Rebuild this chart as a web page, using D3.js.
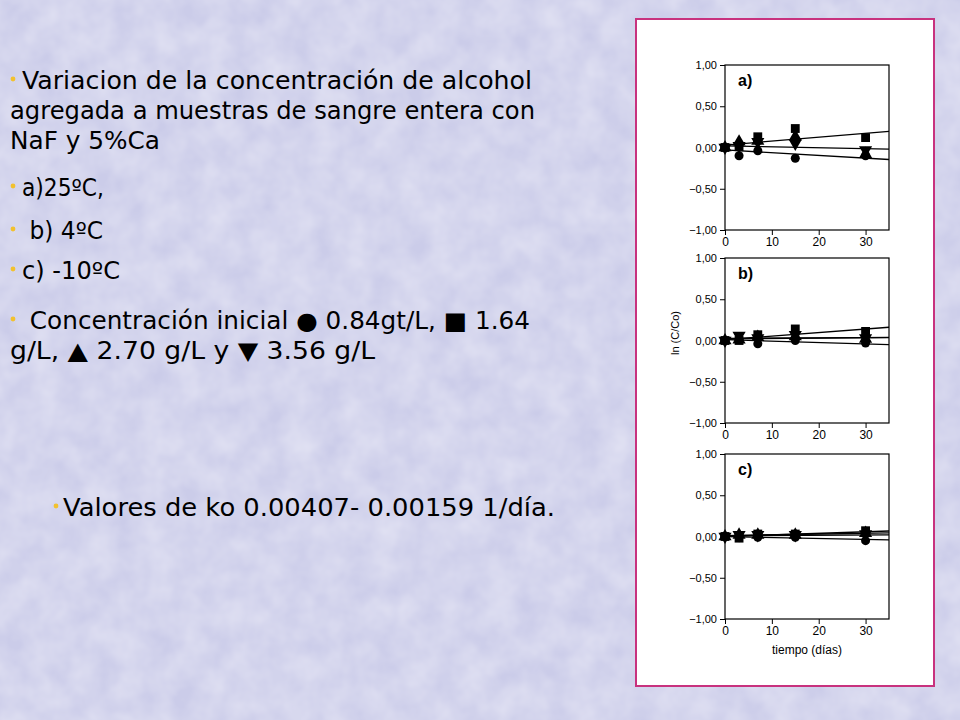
<!DOCTYPE html>
<html><head><meta charset="utf-8">
<script src="https://cdn.jsdelivr.net/npm/d3@7"></script>
<style>body{margin:0;background:#cfd0ec;} svg{display:block;}</style>
</head><body><svg id="c" width="960" height="720"></svg>
<script>
// ---------------- DATA ----------------
const days = [0, 3, 7, 15, 30];
const seriesNames = ["0.84 g/L", "1.64 g/L", "2.70 g/L", "3.56 g/L"];
const seriesShapes = ["circle", "square", "up", "down"];
const panelLabels = ["a)", "b)", "c)"];

// panel a) 25 ºC
const a_circle = [0, -0.10, -0.04, -0.13, -0.10];
const a_square = [0, 0.01, 0.13, 0.23, 0.12];
const a_up     = [0, 0.07, 0.08, 0.13, -0.08];
const a_down   = [0, 0.02, 0.07, 0.05, -0.03];
const a_fitIntercept = [0.03, 0.02, -0.03];
const a_fitSlope     = [0.0047, -0.0011, -0.0033];

// panel b) 4 ºC
const b_circle = [0, 0.01, -0.04, 0.00, -0.03];
const b_square = [0, 0.00, 0.07, 0.14, 0.11];
const b_up     = [0, 0.01, 0.04, 0.05, 0.02];
const b_down   = [0, 0.06, 0.03, 0.07, 0.03];
const b_fitIntercept = [0.01, 0.02, 0.025, 0.01];
const b_fitSlope     = [0.0043, 0.0005, 0.0003, -0.0017];

// panel c) -10 ºC
const c_circle = [0, 0.01, -0.01, -0.01, -0.05];
const c_square = [0, -0.02, 0.03, 0.03, 0.07];
const c_up     = [0, 0.02, 0.02, 0.02, 0.04];
const c_down   = [0, 0.02, 0.02, 0.02, 0.03];
const c_fitIntercept = [0.0, 0.01, 0.01, 0.0];
const c_fitSlope     = [0.0019, 0.001, 0.0003, -0.0012];

const yTicks = [-1, -0.5, 0, 0.5, 1];
const xTicks = [0, 10, 20, 30];
const xDomain = [0, 35];
const yDomain = [-1, 1];

const textLines = [
  {t: "Variacion de la concentración de alcohol", x: 22, y: 89, w: 510, bullet: true},
  {t: "agregada a muestras de sangre entera con", x: 10, y: 119, w: 525},
  {t: "NaF y 5%Ca", x: 10, y: 149, w: 150},
  {t: "a)25ºC,", x: 22, y: 196, w: 82, bullet: true},
  {t: " b) 4ºC", x: 22, y: 239, w: 81, bullet: true},
  {t: "c) -10ºC", x: 22, y: 279, w: 98, bullet: true},
  {t: " Concentración inicial ● 0.84gt/L, ■ 1.64", x: 22, y: 329, w: 508, bullet: true},
  {t: "g/L, ▲ 2.70 g/L y ▼ 3.56 g/L", x: 10, y: 359, w: 365},
  {t: "Valores de ko 0.00407- 0.00159 1/día.", x: 63, y: 516, w: 492, bullet: true, bx: 56}
];

const panelData = [
  {label: panelLabels[0], series: [a_circle, a_square, a_up, a_down], fi: a_fitIntercept, fs: a_fitSlope},
  {label: panelLabels[1], series: [b_circle, b_square, b_up, b_down], fi: b_fitIntercept, fs: b_fitSlope},
  {label: panelLabels[2], series: [c_circle, c_square, c_up, c_down], fi: c_fitIntercept, fs: c_fitSlope}
];

// ---------------- DRAWING ----------------
const svg = d3.select("#c");
const defs = svg.append("defs");
const f = defs.append("filter").attr("id", "tex").attr("x", 0).attr("y", 0).attr("width", "100%").attr("height", "100%");
f.append("feTurbulence").attr("type", "fractalNoise").attr("baseFrequency", 0.035).attr("numOctaves", 3).attr("seed", 4).attr("result", "n");
f.append("feColorMatrix").attr("in", "n").attr("type", "matrix")
  .attr("values", "0 0 0 0 0.94  0 0 0 0 0.94  0 0 0 0 0.98  0 0 0 0.6 -0.1");

svg.append("rect").attr("width", 960).attr("height", 720).attr("fill", "#cbcce9");
svg.append("rect").attr("width", 960).attr("height", 720).attr("filter", "url(#tex)");

// left text
const txt = svg.append("g").attr("font-family", "'DejaVu Sans', sans-serif").attr("font-size", 24).attr("fill", "#000");
textLines.forEach(l => {
  if (l.bullet) {
    svg.append("circle").attr("cx", l.bx || 13).attr("cy", l.y - 10).attr("r", 2.4).attr("fill", "#f2c12e");
  }
  txt.append("text").attr("x", l.x).attr("y", l.y).attr("textLength", l.w)
    .attr("lengthAdjust", "spacingAndGlyphs").style("white-space", "pre").text(l.t);
});

// white frame
svg.append("rect").attr("x", 636).attr("y", 19).attr("width", 298).attr("height", 667)
  .attr("fill", "#fff").attr("stroke", "#c8327e").attr("stroke-width", 2);

const panelTops = [65, 258, 454];
const pH = 165, pL = 725, pR = 889;
const x = d3.scaleLinear().domain(xDomain).range([pL, pR]);
const fmt = v => d3.format(".2f")(v).replace(".", ",");

const sym = {
  circle: d3.symbol().type(d3.symbolCircle).size(64)(),
  square: d3.symbol().type(d3.symbolSquare).size(78)(),
  up: d3.symbol().type(d3.symbolTriangle).size(75)(),
  down: d3.symbol().type(d3.symbolTriangle).size(75)()
};

panelData.forEach((p, i) => {
  const top = panelTops[i];
  const y = d3.scaleLinear().domain(yDomain).range([top + pH, top]);
  const g = svg.append("g").attr("font-family", "'Liberation Sans', Arial, sans-serif");

  // frame
  g.append("rect").attr("x", pL).attr("y", top).attr("width", pR - pL).attr("height", pH)
    .attr("fill", "none").attr("stroke", "#000").attr("stroke-width", 1.2);

  const ya = g.append("g").attr("transform", `translate(${pL},0)`)
    .call(d3.axisLeft(y).tickValues(yTicks).tickFormat(fmt).tickSize(5).tickPadding(3));
  ya.selectAll("text").attr("font-size", 11).attr("fill", "#000").attr("font-family", "'Liberation Sans', Arial, sans-serif");
  ya.select(".domain").remove();

  const xa = g.append("g").attr("transform", `translate(0,${top + pH})`)
    .call(d3.axisBottom(x).tickValues(xTicks).tickFormat(d3.format("d")).tickSize(5).tickPadding(2));
  xa.selectAll("text").attr("font-size", 12).attr("fill", "#000").attr("font-family", "'Liberation Sans', Arial, sans-serif");
  xa.select(".domain").remove();

  // markers
  p.series.forEach((vals, si) => {
    const shape = seriesShapes[si];
    g.append("g").selectAll("path").data(vals).join("path")
      .attr("d", sym[shape])
      .attr("transform", (v, k) => `translate(${x(days[k])},${y(v)})` + (shape === "down" ? " rotate(180)" : ""))
      .attr("fill", "#000");
  });

  // fitted lines
  p.fi.forEach((b0, li) => {
    const b1 = p.fs[li];
    g.append("line")
      .attr("x1", x(xDomain[0])).attr("y1", y(b0))
      .attr("x2", x(xDomain[1])).attr("y2", y(b0 + b1 * xDomain[1]))
      .attr("stroke", "#000").attr("stroke-width", 1.3);
  });

  g.append("text").attr("x", 738).attr("y", top + 21).attr("font-size", 16).attr("font-weight", "bold")
    .text(p.label);
});

svg.append("text").attr("transform", "translate(679,333) rotate(-90)").attr("text-anchor", "middle")
  .attr("font-family", "'Liberation Sans', Arial, sans-serif").attr("font-size", 11).text("ln (C/Co)");
svg.append("text").attr("x", 807).attr("y", 654).attr("text-anchor", "middle")
  .attr("font-family", "'Liberation Sans', Arial, sans-serif").attr("font-size", 12).text("tiempo (días)");
</script></body></html>
